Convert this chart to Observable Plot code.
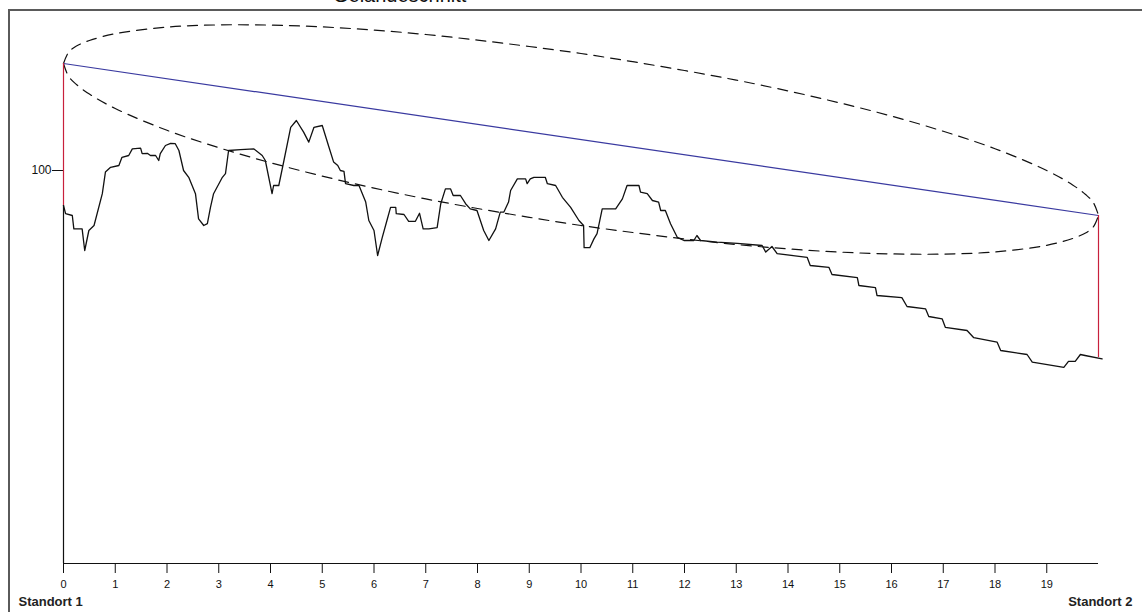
<!DOCTYPE html>
<html>
<head>
<meta charset="utf-8">
<script src="https://cdn.jsdelivr.net/npm/d3@7"></script>
<script src="https://cdn.jsdelivr.net/npm/@observablehq/plot@0.6"></script>
<style>
  html, body { margin: 0; padding: 0; background: #fff; }
  #wrap { position: relative; width: 1142px; height: 612px; overflow: hidden; background: #fff; }
  #frame { position: absolute; left: 8px; top: 9px; width: 1300px; height: 800px;
           border-left: 2px solid #5a5a5a; border-top: 2px solid #5a5a5a; z-index: 3; pointer-events: none; }
  #title { position: absolute; left: 333px; top: -15px; font: 20px "Liberation Sans", Arial, sans-serif;
           line-height: 20px; color: #111; z-index: 4; white-space: nowrap; }
  #chart { position: absolute; left: 0; top: 0; z-index: 2; }
</style>
</head>
<body>
<div id="wrap">
  <div id="title">Geländeschnitt</div>
  <div id="frame"></div>
  <div id="chart"></div>
</div>
<script>
// Terrain profile (distance in km, elevation)
const profileX = [0,0.04,0.17,0.2,0.36,0.41,0.49,0.59,0.75,0.81,0.91,1.07,1.13,1.26,1.33,1.49,1.52,1.62,1.68,1.78,1.84,1.87,1.97,2.07,2.16,2.23,2.32,2.42,2.55,2.61,2.71,2.78,2.84,2.9,3.07,3.13,3.19,3.42,3.68,3.84,3.9,4.03,4.06,4.16,4.26,4.39,4.5,4.64,4.74,4.84,5.0,5.13,5.22,5.3,5.35,5.42,5.45,5.61,5.71,5.84,5.9,6.0,6.07,6.16,6.25,6.32,6.42,6.43,6.58,6.67,6.8,6.88,6.95,7.06,7.22,7.29,7.38,7.48,7.53,7.67,7.77,7.86,7.99,8.12,8.22,8.35,8.44,8.51,8.6,8.64,8.77,8.93,8.96,9.02,9.09,9.31,9.35,9.51,9.64,9.8,9.96,10.05,10.06,10.17,10.25,10.31,10.41,10.67,10.8,10.89,11.12,11.15,11.28,11.38,11.5,11.54,11.63,11.73,11.86,11.99,12.18,12.24,12.31,12.63,13.02,13.5,13.57,13.69,13.79,14.37,14.43,14.79,14.85,15.34,15.37,15.69,15.72,16.2,16.3,16.66,16.72,16.98,17.04,17.46,17.59,18.04,18.11,18.62,18.72,19.33,19.42,19.55,19.65,19.74,20.07];
const profileY = [91.25,89.2,88.75,85.4,85.4,80,85,86.25,94.2,99.6,100.8,101.25,103.3,103.75,105.4,105.6,104.2,104.3,103.75,103.75,102.5,104.2,106.25,106.8,106.7,105,100,98.3,94.2,87.9,86.25,86.7,90.8,94.2,98.3,99.2,105,105.2,105.4,103.75,102.5,94.2,96.25,96.25,102.5,110.8,112.5,109.6,107.1,110.8,111.25,105.8,102.1,101.25,100,99.8,96.7,96.25,96.25,92.1,87.5,85,78.75,83.3,87.5,90.8,90.8,89.2,89,87.3,87.3,89.3,85.4,85.4,85.7,91.7,95.4,95.4,93.75,93.75,91.7,90.4,90,85,82.5,85.4,89.6,89.6,92.1,95,97.9,97.9,96.7,97.9,98.3,98.3,96.7,96.25,93.3,90.8,87.5,86.25,80.7,80.7,82.9,84.2,90.4,90.4,92.9,96.25,96.25,94.6,94.2,92.5,92.1,90,90,86.7,83.3,82.5,82.5,83.75,82.5,82.1,81.8,81.25,79.6,81,79.2,78.3,76.25,75.8,74,73.2,71.25,70.7,68.75,68.2,66,65.4,63.5,62.9,60.8,60,58.2,57.1,55,54,52.1,50.8,52.3,52.3,54,53.75,52.9];

// Fresnel zone (dashed ellipse)
const fresnelX     = [0,0.1,0.25,0.5,1,2,3,4,5,6,7,8,9,10,11,12,13,14,15,16,17,18,19,19.5,19.75,19.9,20];
const fresnelUpper = [126.75,129.6,131.1,132.5,134.2,135.85,136.4,136.35,135.9,135.1,134.0,132.6,131.0,129.25,127.2,125.0,122.6,119.9,116.9,113.6,109.8,105.45,100.0,96.4,94.0,92.0,88.75];
const fresnelLower = [126.75,123.5,121.5,119.1,115.5,110.05,105.7,101.95,98.6,95.6,92.9,90.5,88.3,86.25,84.5,82.9,81.5,80.4,79.6,79.15,79.1,79.65,81.3,83.0,84.4,85.9,88.75];

// Sites: position, antenna height, ground height
const siteX = [0, 20];
const antennaY = [126.75, 88.75];
const groundY = [91.25, 53.25];
const siteNames = ["Standort 1", "Standort 2"];

// Axes
const xTicks = [0,1,2,3,4,5,6,7,8,9,10,11,12,13,14,15,16,17,18,19];
const yTicks = [100];
const xDomain = [0, 20];
const yDomain = [1.75, 137.75];

const profile = profileX.map((x, i) => ({x, y: profileY[i]}));
const upper = fresnelX.map((x, i) => ({x, y: fresnelUpper[i]}));
const lower = fresnelX.map((x, i) => ({x, y: fresnelLower[i]}));
const sight = siteX.map((x, i) => ({x, y: antennaY[i]}));
const masts = siteX.map((x, i) => ({x, y1: groundY[i], y2: antennaY[i]}));

const chart = Plot.plot({
  width: 1142,
  height: 612,
  marginLeft: 63,
  marginRight: 44,
  marginTop: 19,
  marginBottom: 49,
  style: {fontFamily: '"Liberation Sans", Arial, sans-serif', fontSize: "11px", background: "transparent", color: "#111", overflow: "visible"},
  x: {domain: xDomain},
  y: {domain: yDomain},
  marks: [
    Plot.ruleY([yDomain[0]], {stroke: "#111", strokeWidth: 1.2}),
    Plot.ruleX([siteX[0]], {y1: yDomain[0], y2: groundY[0], stroke: "#111", strokeWidth: 1.2}),
    Plot.axisX({ticks: xTicks, tickSize: 10, tickPadding: 7, label: null, fontSize: 11, tickFormat: d => String(d), stroke: "#111"}),
    Plot.axisY({ticks: yTicks, tickSize: 11, tickPadding: 1, label: null, fontSize: 12, tickFormat: d => String(d), stroke: "#111"}),
    Plot.line(upper, {x: "x", y: "y", stroke: "#111", strokeWidth: 1.2, strokeDasharray: "10,7", curve: "catmull-rom"}),
    Plot.line(lower, {x: "x", y: "y", stroke: "#111", strokeWidth: 1.2, strokeDasharray: "10,7", curve: "catmull-rom"}),
    Plot.line(sight, {x: "x", y: "y", stroke: "#3a3aa0", strokeWidth: 1.2}),
    Plot.line(profile, {x: "x", y: "y", stroke: "#111", strokeWidth: 1.3}),
    Plot.ruleX(masts, {x: "x", y1: "y1", y2: "y2", stroke: "#c8203c", strokeWidth: 1.2}),
    Plot.text([siteNames[0]], {frameAnchor: "bottom-left", textAnchor: "start", dx: -45, dy: 42, fontWeight: "bold", fontSize: 13, fill: "#222"}),
    Plot.text([siteNames[1]], {frameAnchor: "bottom-right", textAnchor: "end", dx: 34, dy: 42, fontWeight: "bold", fontSize: 13, fill: "#222"})
  ]
});
document.getElementById("chart").appendChild(chart);
</script>
</body>
</html>
